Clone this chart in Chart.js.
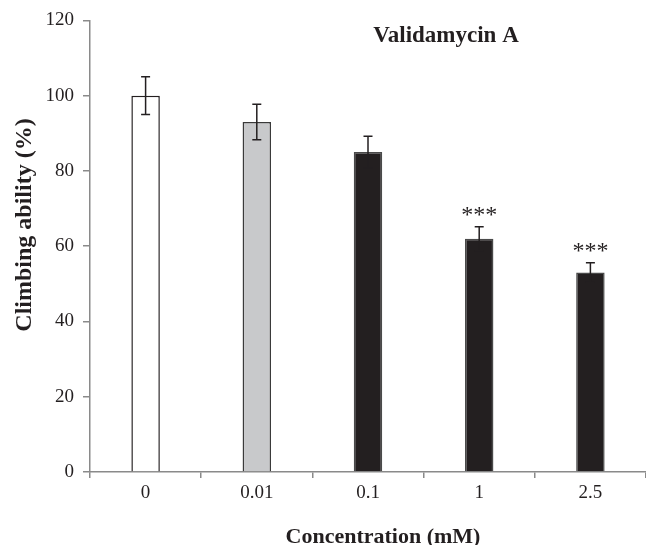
<!DOCTYPE html>
<html><head>
<script src="https://cdn.jsdelivr.net/npm/chart.js@4"></script>
<style>body{margin:0;background:#fff;overflow:hidden}</style>
</head><body>
<canvas id="c" width="646" height="545"></canvas>
<script>
const categories = ["0", "0.01", "0.1", "1", "2.5"];
const climbing = [100, 93, 85, 62, 53];
const errors = [5, 4.7, 4.2, 3.2, 2.6];
const significance = ["", "", "", "***", "***"];
const barColors = ["#ffffff", "#c8c9cb", "#231f20", "#231f20", "#231f20"];
const barBorders = ["#231f20", "#3a3a3a", "#4a4a4a", "#4a4a4a", "#4a4a4a"];
const chartTitle = "Validamycin A";
const xTitle = "Concentration (mM)";
const yTitle = "Climbing ability (%)";

const SERIF = "'Liberation Serif', 'DejaVu Serif', serif";
const INK = "#231f20";
const AXIS = "#8a8a8a";

const extras = {
  id: "extras",
  afterDatasetsDraw(chart) {
    const ctx = chart.ctx;
    const y = chart.scales.y;
    const meta = chart.getDatasetMeta(0);
    ctx.save();
    ctx.strokeStyle = INK;
    ctx.lineWidth = 1.5;
    meta.data.forEach((bar, i) => {
      const x = bar.x;
      const top = y.getPixelForValue(climbing[i] + errors[i]);
      const bot = y.getPixelForValue(climbing[i] - errors[i]);
      ctx.beginPath();
      ctx.moveTo(x, top); ctx.lineTo(x, bot);
      ctx.moveTo(x - 4.5, top); ctx.lineTo(x + 4.5, top);
      ctx.moveTo(x - 4.5, bot); ctx.lineTo(x + 4.5, bot);
      ctx.stroke();
      if (significance[i]) {
        ctx.fillStyle = INK;
        ctx.font = "24px " + SERIF;
        ctx.textAlign = "center";
        ctx.textBaseline = "alphabetic";
        ctx.fillText(significance[i], x, top - 5);
      }
    });
    ctx.restore();
  },
  afterDraw(chart) {
    const ctx = chart.ctx;
    ctx.save();
    ctx.fillStyle = INK;
    ctx.textAlign = "center";
    ctx.textBaseline = "alphabetic";
    ctx.font = "bold 23px " + SERIF;
    ctx.fillText(chartTitle, 446, 42);
    ctx.font = "bold 22px " + SERIF;
    ctx.fillText(xTitle, 383, 543);
    ctx.translate(31, 225);
    ctx.rotate(-Math.PI / 2);
    ctx.font = "bold 24px " + SERIF;
    ctx.fillText(yTitle, 0, 0);
    ctx.restore();
  }
};

new Chart(document.getElementById("c"), {
  type: "bar",
  data: {
    labels: categories,
    datasets: [{
      data: climbing,
      backgroundColor: barColors,
      borderColor: barBorders,
      borderWidth: 1.5,
      categoryPercentage: 1,
      barPercentage: 0.256
    }]
  },
  options: {
    responsive: false,
    animation: false,
    layout: { padding: { top: 19, right: -10, left: 0, bottom: 0 } },
    plugins: { legend: { display: false }, tooltip: { enabled: false }, title: { display: false } },
    scales: {
      x: {
        offset: true,
        grid: { offset: true, drawOnChartArea: false, drawTicks: true, tickLength: 6, color: AXIS, lineWidth: 1.5 },
        border: { color: AXIS, width: 1.5 },
        ticks: { color: INK, font: { family: SERIF, size: 19 }, padding: 4 },
        afterFit(s) { s.height = 73; }
      },
      y: {
        min: 0, max: 120,
        ticks: { stepSize: 20, color: INK, font: { family: SERIF, size: 19 }, padding: 9 },
        grid: { drawOnChartArea: false, drawTicks: true, tickLength: 7, color: AXIS, lineWidth: 1.5 },
        border: { color: AXIS, width: 1.5 },
        afterFit(s) { s.width = 90; }
      }
    }
  },
  plugins: [extras]
});
</script>
</body></html>
